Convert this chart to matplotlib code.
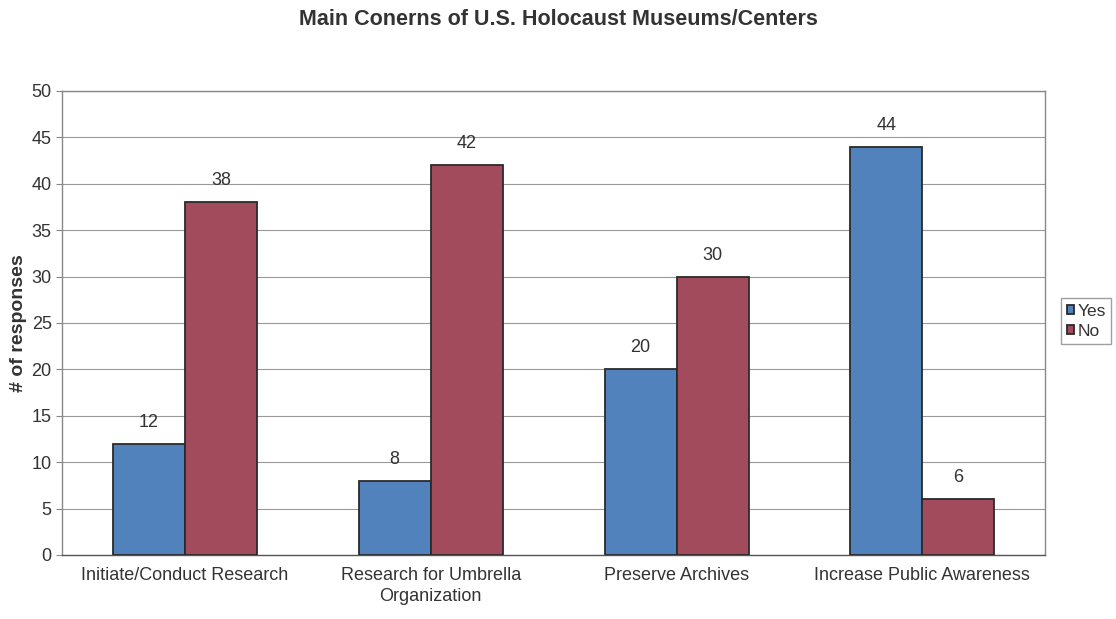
import matplotlib.pyplot as plt
import numpy as np

plt.rcParams['font.family'] = ['Liberation Sans', 'DejaVu Sans']

categories = ['Initiate/Conduct Research', 'Research for Umbrella\nOrganization',
              'Preserve Archives', 'Increase Public Awareness']
yes_vals = [12, 8, 20, 44]
no_vals = [38, 42, 30, 6]

fig = plt.figure(figsize=(11.16, 6.19), dpi=100)
ax = fig.add_axes([0.0556, 0.1034, 0.881, 0.7496])

x = np.arange(len(categories))
w = 0.293
b1 = ax.bar(x - w / 2, yes_vals, w, color='#5282BC', edgecolor='#2a2a2a', linewidth=1.3, label='Yes', zorder=3)
b2 = ax.bar(x + w / 2, no_vals, w, color='#A24B5D', edgecolor='#2a2a2a', linewidth=1.3, label='No', zorder=3)

for bars in (b1, b2):
    for r in bars:
        ax.text(r.get_x() + r.get_width() / 2, r.get_height() + 1.4, f'{int(r.get_height())}',
                ha='center', va='bottom', fontsize=13, color='#333333')

ax.set_xlim(-0.5, 3.5)
ax.set_ylim(0, 50)
ax.set_yticks(range(0, 51, 5))
ax.set_xticks(x)
ax.set_xticklabels(categories, fontsize=13, color='#333333', linespacing=1.3)
ax.tick_params(axis='y', labelsize=13, length=4, color='#888888', labelcolor='#333333')
ax.tick_params(axis='x', length=0, pad=9)
ax.grid(True, axis='y', color='#999999', linewidth=0.8, zorder=0)
for s in ax.spines.values():
    s.set_color('#888888')
    s.set_linewidth(1.0)
ax.spines['bottom'].set_color('#555555')

ax.set_ylabel('# of responses', fontsize=14, fontweight='bold', labelpad=3, color='#333333')
fig.text(0.5, 0.968, 'Main Conerns of U.S. Holocaust Museums/Centers', ha='center', va='center',
         fontsize=15.5, fontweight='bold', color='#333333')

leg = fig.legend(handles=[b1, b2], labels=['Yes', 'No'], loc='center left',
                 bbox_to_anchor=(0.951, 0.481), fontsize=12.5, frameon=True, fancybox=False,
                 handlelength=0.45, handleheight=0.45, handletextpad=0.2, borderpad=0.3,
                 labelspacing=0.3, borderaxespad=0)
leg.get_frame().set_edgecolor('#888888')
for t in leg.get_texts():
    t.set_color('#333333')

fig.savefig('out.png', dpi=100)
